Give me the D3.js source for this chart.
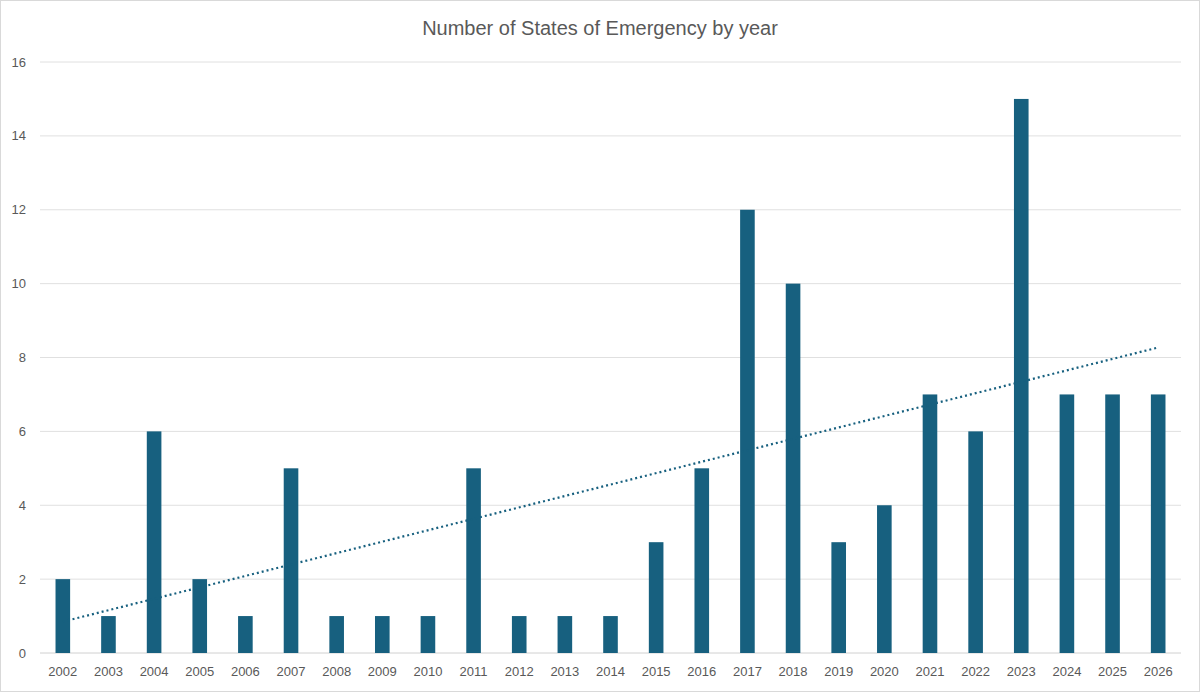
<!DOCTYPE html>
<html>
<head>
<meta charset="utf-8">
<script src="https://cdn.jsdelivr.net/npm/d3@7"></script>
<style>
  body { margin: 0; background: #fff; }
  svg { display: block; font-family: "Liberation Sans", Arial, sans-serif; }
</style>
</head>
<body>
<div id="chart"></div>
<script>
const years = ["2002","2003","2004","2005","2006","2007","2008","2009","2010","2011","2012","2013",
               "2014","2015","2016","2017","2018","2019","2020","2021","2022","2023","2024","2025","2026"];
const counts = [2,1,6,2,1,5,1,1,1,5,1,1,1,3,5,12,10,3,4,7,6,15,7,7,7];
const yTicks = [0,2,4,6,8,10,12,14,16];
const title = "Number of States of Emergency by year";

const width = 1200, height = 692,
      margin = {top: 62, right: 19, bottom: 39, left: 40},
      barColor = "#17607f";

const svg = d3.select("#chart").append("svg")
    .attr("width", width).attr("height", height);

// chart frame
svg.append("rect")
    .attr("x", 0.5).attr("y", 0.5)
    .attr("width", width - 1).attr("height", height - 1)
    .attr("fill", "#fff").attr("stroke", "#d9d9d9");

var x = d3.scaleBand()
    .domain(years)
    .range([margin.left, width - margin.right])
    .paddingInner(0.68)
    .paddingOuter(0.34);

var y = d3.scaleLinear()
    .domain([0, 16])
    .range([height - margin.bottom, margin.top]);

// gridlines
svg.append("g")
    .selectAll("line")
    .data(yTicks)
    .enter()
    .append("line")
    .attr("x1", margin.left)
    .attr("x2", width - margin.right)
    .attr("y1", function(d){ return y(d); })
    .attr("y2", function(d){ return y(d); })
    .attr("stroke", function(d){ return d === 0 ? "#d0d0d0" : "#e0e0e0"; })
    .attr("stroke-width", 1);

// y labels
svg.append("g")
    .selectAll("text")
    .data(yTicks)
    .enter()
    .append("text")
    .attr("x", 26)
    .attr("y", function(d){ return y(d); })
    .attr("dy", "0.35em")
    .attr("text-anchor", "end")
    .attr("font-size", 13)
    .attr("fill", "#595959")
    .text(function(d){ return d; });

// bars
svg.append("g")
    .selectAll("rect")
    .data(counts)
    .enter()
    .append("rect")
    .attr("x", function(d, i){ return x(years[i]); })
    .attr("y", function(d){ return y(d); })
    .attr("width", x.bandwidth())
    .attr("height", function(d){ return y(0) - y(d); })
    .attr("fill", barColor);

// x labels
svg.append("g")
    .selectAll("text")
    .data(years)
    .enter()
    .append("text")
    .attr("x", function(d){ return x(d) + x.bandwidth() / 2; })
    .attr("y", height - 16)
    .attr("text-anchor", "middle")
    .attr("font-size", 13)
    .attr("fill", "#595959")
    .text(function(d){ return d; });

// linear trendline (least squares, like the spreadsheet one)
var n = counts.length,
    mx = d3.mean(counts, function(d, i){ return i; }),
    my = d3.mean(counts),
    sxy = d3.sum(counts, function(d, i){ return (i - mx) * (d - my); }),
    sxx = d3.sum(counts, function(d, i){ return (i - mx) * (i - mx); }),
    slope = sxy / sxx,
    icpt = my - slope * mx;

var trend = [0, n - 1].map(function(i){ return {year: years[i], v: icpt + slope * i}; });

svg.append("path")
    .datum(trend)
    .attr("fill", "none")
    .attr("stroke", barColor)
    .attr("stroke-width", 2.2)
    .attr("stroke-dasharray", "2,3")
    .attr("d", d3.line()
        .x(function(d){ return x(d.year) + x.bandwidth() / 2; })
        .y(function(d){ return y(d.v); }));

// title
svg.append("text")
    .attr("x", width / 2)
    .attr("y", 35)
    .attr("text-anchor", "middle")
    .attr("font-size", 20)
    .attr("fill", "#595959")
    .text(title);
</script>
</body>
</html>
